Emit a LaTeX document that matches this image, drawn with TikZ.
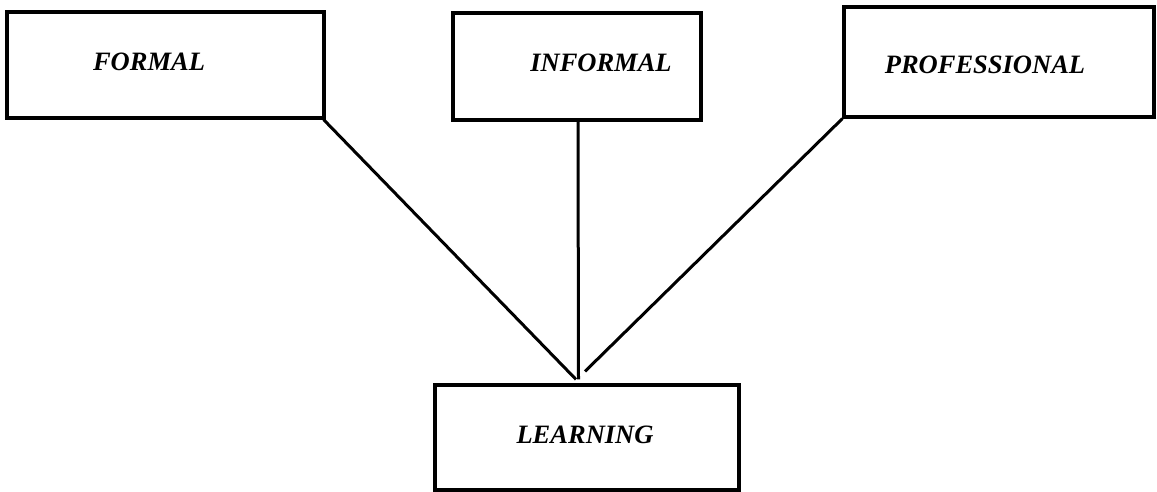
\documentclass[tikz,border=0pt]{standalone}
\usepackage{fontspec}
\setmainfont{Liberation Serif}
\begin{document}
\begin{tikzpicture}[x=1pt,y=-1pt,
  boxnode/.style={draw=black, line width=3.2pt, inner sep=0pt, rectangle},
  lbl/.style={font=\fontsize{26.5}{30}\selectfont\bfseries\itshape, inner sep=0pt, anchor=center},
  conn/.style={line width=3pt, black}]
\useasboundingbox (0,0) rectangle (1157,492);
\fill[white] (0,0) rectangle (1157,492);
% boxes
\node[boxnode, minimum width=317pt, minimum height=106pt] (formal) at (165.5,65) {};
\node[boxnode, minimum width=248pt, minimum height=107pt] (informal) at (577,66.5) {};
\node[boxnode, minimum width=310pt, minimum height=110pt] (professional) at (999,62) {};
\node[boxnode, minimum width=304pt, minimum height=105pt] (learning) at (587,437.5) {};
% labels
\node[lbl] (tformal) at (149,62) {FORMAL};
\node[lbl] (tinformal) at (601,63) {INFORMAL};
\node[lbl] (tprofessional) at (985,65) {PROFESSIONAL};
\node[lbl] (tlearning) at (585,435) {LEARNING};
% connector end points near learning
\coordinate (e1) at ([xshift=-11pt,yshift=4pt]learning.north);
\coordinate (e2) at ([xshift=-8.5pt,yshift=4pt]learning.north);
\coordinate (e3) at ([xshift=-2pt,yshift=12pt]learning.north);
\draw[conn] ([xshift=-2pt]formal.south east) -- (e1);
\draw[conn] ([xshift=1pt]informal.south) -- (e2);
\draw[conn] (professional.south west) -- (e3);
\end{tikzpicture}
\end{document}
